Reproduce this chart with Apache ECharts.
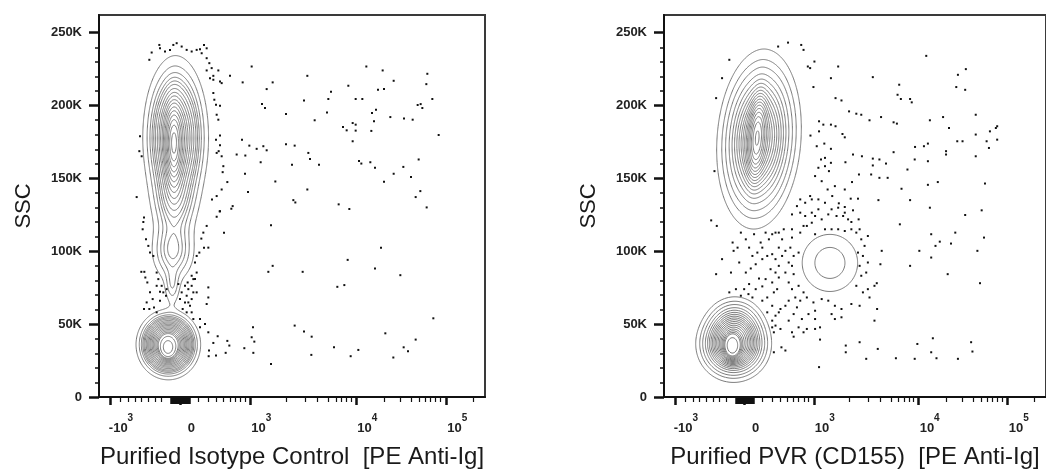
<!DOCTYPE html>
<html><head><meta charset="utf-8">
<script src="https://cdn.jsdelivr.net/npm/echarts@6/dist/echarts.min.js"></script>
<style>html,body{margin:0;padding:0;background:#fff}#c{width:1046px;height:474px}</style>
</head><body><div id="c"></div>
<script>
// ---------- axis definitions (x = biexponential display channel, y = SSC in thousands) ----------
const X_MAX = 1158;
const Y_MAX = 262.144;
const xMajorTicks = [33, 244, 454, 772, 1042];
const xMajorBase = ['-10', '0', '10', '10', '10'];
const xMajorExp = ['3', '', '3', '4', '5'];
const xMinorTicks = [63, 88, 108, 128, 148, 168, 188,
  298, 328, 353, 373, 393, 408, 425, 438,
  562, 618, 656, 688, 711, 728, 743, 756,
  855, 903, 938, 961, 980, 995, 1010, 1025, 1122];
const xZeroTicks = [216, 219, 222, 225, 228, 231, 234, 237, 240, 243, 246, 249, 252, 255, 258, 261, 264, 267, 270, 273];
const yMajorTicks = [0, 50, 100, 150, 200, 250];
const yMinorTicks = [10, 20, 30, 40, 60, 70, 80, 90, 110, 120, 130, 140, 160, 170, 180, 190, 210, 220, 230, 240];
const titles = ['Purified Isotype Control  [PE Anti-Ig]', 'Purified PVR (CD155)  [PE Anti-Ig]'];
const yTitle = 'SSC';

// ---------- population density model: [cx, cy(K), sx, sy(K), rho, weight] ----------
const isoPopulations = [
  [230, 178, 44, 25, 0, 0.38],
  [224, 172, 16, 18, 0, 0.07],
  [226, 133, 36, 14, 0, 0.05],
  [222, 100, 36, 12, 0, 0.05],
  [220, 76, 14, 8, 0, 0.007],
  [208, 36, 38, 9.5, 0, 0.26],
  [207, 34, 11, 3.5, 0, 0.04]
];
const pvrPopulations = [
  [288, 177, 52, 25, 0.12, 0.40],
  [282, 178, 16, 16, 0.3, 0.06],
  [503, 92, 60, 14, 0, 0.033],
  [211, 36, 44, 10, 0, 0.19],
  [215, 50, 40, 9, 0, 0.04],
  [207, 35, 13, 4.5, 0, 0.04]
];
const contourProb = [0.05, 0.10, 0.15, 0.20, 0.25, 0.30, 0.35, 0.40, 0.45, 0.50, 0.55, 0.60, 0.65, 0.70, 0.75, 0.80, 0.85, 0.90, 0.95];

// ---------- outlier events [x channel, SSC K] ----------
const isoDots = [
[393,220.4],[458,226.8],[431,215.9],[503,211.3],[521,215.9],[625,220.4],[696,209.5],[688,204.5],[748,213.6],[802,226.8],[851,224.1],[884,217],[837,210.8],[855,211.3],[985,221.8],[982,214.7],[1000,204.5],[956,200.4],[965,201],[970,198.3],[770,204.5],[790,204.5],[489,201],[498,198.3],[561,194.2],[615,203.5],[647,189.9],[684,195.3],[819,194.9],[831,197.2],[874,192.1],[915,191.2],[941,190.3],[732,185.3],[743,183],[761,188],[770,186.9],[770,182.8],[761,175.5],[825,189.2],[817,182.6],[1019,179.8],[429,176.6],[451,172.5],[493,172.1],[473,170.3],[503,169.3],[485,161.1],[439,165.7],[413,166.4],[561,173.4],[587,172.5],[579,159.3],[628,167.5],[633,163.4],[660,159.3],[780,162],[787,160.2],[814,161.1],[828,157.3],[855,147.7],[884,153.2],[913,157.9],[959,163],[936,150.9],[964,141.3],[950,137.2],[983,130.1],[625,142.4],[583,135.1],[589,133.5],[447,140.6],[438,153.2],[529,147.9],[401,131],[397,129.2],[362,127.4],[719,132.2],[751,129],[516,117.8],[846,102.5],[746,94.1],[904,83.6],[521,90],[508,85.9],[611,85.9],[715,75.6],[736,76.8],[828,88.2],[1003,54],[587,49],[615,44.9],[638,41.4],[462,47.8],[458,41],[466,38],[436,33.5],[463,30.3],[705,34.1],[778,32.3],[755,28],[637,28.9],[859,43.7],[914,34.1],[927,31.4],[950,39.4],[883,27.1],[516,22.7],[385,38.5],[391,35.3],[380,30.3],[356,41.7],[343,37.1],[330,31.9],[351,28.4],[329,28],
[343,220.4],[333,218.8],[323,224.1],[358,224.1],[343,217.7],[363,216.5],[368,215.4],[343,208.6],[346,204],[351,200.6],[363,199.9],[353,193.7],[358,190.3],[363,179.4],[351,176.6],[363,172.8],[353,167.5],[368,165.2],[359,168.7],[373,158.4],[371,154.3],[385,147.5],[368,142.4],[353,137.9],[339,135.6],[363,127.4],[375,112.8],[353,123.7],[323,117.4],[313,112.8],[307,108.7],[328,102.5],[315,102.5],[301,99.1],[293,96.8],[288,92.3],[293,85.4],[283,80.9],[278,76.3],[293,71.8],[278,67.2],[268,64.9],[263,58.1],[283,53.5],[303,53.5],[318,50.1],[328,44.4],[328,75.2],[328,68.3],[323,63.8],[303,47.8],
[181,241.6],[183,239.3],[223,241.6],[233,242.8],[248,240.5],[263,238.2],[278,237.1],[293,238.2],[303,238.7],[315,241.6],[323,239.3],[308,235.9],[198,237.1],[213,238.2],[158,236.4],[151,231.4],[323,232.5],[331,229.1],[338,225.7],
[123,178.9],[121,168.7],[128,165.2],[113,137.2],[135,123.1],[133,120.1],[131,115.1],[141,108.2],[148,103.7],[163,96.8],[153,99.1],[127,85.9],[136,85.9],[139,82],[145,78.6],[153,71.8],[161,67.2],[143,64.9],[151,60.4],[135,60.4],[165,61.5],[173,58.1],[183,66.1],[193,71.8],[188,76.3],[173,76.3],[201,69.5],[183,72.2],[203,74],[178,80.9],[173,85.4],[258,76.3],[248,71.8],[263,69.5],[268,74],[243,67.2],[258,64.9],[273,62.6],[251,60.4],[278,58.1],[283,71.8],[238,77.5],[266,78.6],[278,83.2],[288,80.9]
];
const pvrDots = [
[376,243.2],[416,241.6],[423,238.2],[346,240.5],[436,226.8],[456,230.2],[443,225.7],[528,226.8],[506,218.8],[453,212.7],[520,205.1],[538,203.5],[633,219.5],[795,234.1],[891,221.1],[915,225],[913,210.8],[886,212.7],[713,214.3],[708,207.4],[718,204.5],[746,204.5],[751,202.2],[561,196],[583,194.4],[598,193.7],[623,189.9],[658,192.1],[696,188.5],[706,187.6],[806,189.9],[846,192.1],[864,184.6],[945,193.7],[1006,184.6],[1010,185.8],[988,182.3],[978,175.5],[985,170.9],[1010,176.6],[945,180.1],[889,175.5],[905,175.5],[855,168.7],[855,166.4],[800,173.9],[788,172.1],[761,171.6],[800,161.8],[760,163],[696,168],[673,160.2],[653,163],[633,163.6],[633,158.9],[600,165.2],[628,152.7],[653,150.4],[678,150.4],[738,156.1],[720,142.9],[746,135.1],[806,129.9],[830,147.5],[800,145.6],[945,165.2],[973,146.5],[963,128.1],[913,124.9],[970,109.4],[950,100.3],[958,78.1],[883,112.8],[870,105.3],[836,106.6],[823,103.7],[810,95.7],[774,100.3],[810,111.7],[746,90],[860,84.3],[650,135.1],[715,118.5],[660,100.3],[656,91.1],[645,78.1],[646,60.4],[638,52.4],[541,180.5],[548,178.2],[520,185.8],[506,186.9],[470,189.2],[483,186.9],[470,182.3],[444,179.4],[463,172.1],[486,173.9],[506,170.3],[476,163],[488,164.1],[468,157.3],[488,158.4],[500,155],[506,160.7],[573,166.4],[550,161.1],[570,147.5],[591,152.7],[548,142.4],[566,136.1],[588,136.1],[548,130.4],[573,128.1],[590,121.9],[568,120.1],
[593,37.6],[551,35.3],[551,30.7],[613,26.2],[648,33],[703,26.6],[760,26.2],[768,36.4],[815,40.3],[810,30.7],[826,26.6],[891,26.2],[931,37.6],[935,31.2],[470,20.5],[473,39.4],[433,46.7],[458,46.7],[423,44.4],[356,34.1],[368,31.9],[333,30.7],[333,44.4],[328,52.4],[348,58.1],[338,49],[393,41.4],
[158,205.1],[176,218.8],[198,231.4],
[143,121.2],[160,117.4],[153,155],[158,84.3],[176,94.6],[203,85.4],[208,106],[223,102.5],[211,100.3],[228,92.3],[248,85.4],[263,88.2],[278,91.1],[288,81.3],[298,75.9],[278,74],[258,77.5],[243,74],[218,74],[198,71.8],[233,69.5],[256,70.6],[268,68.3],[298,66.1],[313,68.3],[333,71.8],[343,74],[328,78.6],[348,82],[368,85.4],[378,92.3],[388,90],[393,84.3],[378,78.6],[388,74],[398,68.3],[378,66.1],[368,62.6],[353,60.4],[338,55.8],[328,62.6],[313,58.1],[328,47.8],[353,46.7],[378,52.4],[393,56.9],[403,61.5],[413,66.1],[423,71.8],[433,68.3],[453,64.9],[458,59.2],[478,67.2],[498,66.1],[518,62.6],[538,60.4],[568,63.8],[593,62.6],[623,68.3],[638,76.3],[618,74],[603,71.8],[583,76.3],[598,83.2],[613,85.4],[593,90],[618,92.3],[603,96.8],[588,99.1],[608,103.7],[598,108.2],[618,110.5],[583,112.8],[593,115.1],[568,115.1],[548,113.9],[528,115.1],[508,115.1],[488,115.1],[458,111.7],[408,99.1],[408,76.3],[393,96.8],[383,102.5],[368,100.3],[358,96.8],[348,102.5],[338,94.6],[328,98],[313,96.8],[298,94.6],[283,99.1],[268,96.8],[258,102.5],[293,106],[318,108.2],[338,112.8],[358,108.2],[388,109.4],[413,112.8],[433,117.4],[448,119.6],[458,124.2],[478,121.9],[468,128.8],[448,126.5],[428,124.2],[413,126.5],[428,133.3],[448,135.6],[468,135.6],[488,133.3],[508,128.8],[523,124.2],[498,125.3],[528,129.9],[543,124.2],[558,121.9],[548,126.5],[530,132.9],[510,137.9],[496,142.4],[518,144.7],[478,148.1],[458,151.6],[443,137.9],[413,135.6],[423,117.4],[388,115.1],[363,115.1],[348,112.8],[328,111.7],[308,112.8],[273,111.7],[248,108.2],[233,112.8],[298,102.5],[308,80.9],[323,87.7],[338,85.4],[348,90],[388,44.4],[408,47.8],[418,53.5],[438,56.9],[458,53.5],[473,47.8],[508,56.9],[518,53.5],[538,54.7],[388,125.3],[403,131]
];

// ---------- contour computation (probability contours of the density model) ----------
function gauss(x, y, c) {
  const dx = (x - c[0]) / c[2], dy = (y - c[1]) / c[3], r = c[4];
  const q = (dx * dx - 2 * r * dx * dy + dy * dy) / (1 - r * r);
  return c[5] * Math.exp(-0.5 * q) / (c[2] * c[3] * Math.sqrt(1 - r * r));
}
function buildContours(pops, xr, yr, probs) {
  const x0 = xr[0], x1 = xr[1], dx = xr[2], y0 = yr[0], y1 = yr[1], dy = yr[2];
  const nx = Math.floor((x1 - x0) / dx) + 1, ny = Math.floor((y1 - y0) / dy) + 1;
  const f = new Float64Array(nx * ny);
  for (let j = 0; j < ny; j++) {
    const y = y0 + j * dy;
    for (let i = 0; i < nx; i++) {
      const x = x0 + i * dx; let s = 0;
      for (const p of pops) s += gauss(x, y, p);
      f[j * nx + i] = s;
    }
  }
  const sorted = Float64Array.from(f).sort().reverse();
  let total = 0; for (let n = 0; n < sorted.length; n++) total += sorted[n];
  const ps = probs.slice().sort((a, b) => a - b);
  const levels = []; let cum = 0, k = 0;
  for (let n = 0; n < sorted.length && k < ps.length; n++) {
    cum += sorted[n];
    while (k < ps.length && cum >= ps[k] * total) { levels.push(sorted[n]); k++; }
  }
  const segs = [];
  for (const L of levels) {
    for (let j = 0; j < ny - 1; j++) {
      const ya = y0 + j * dy, yb = ya + dy;
      for (let i = 0; i < nx - 1; i++) {
        const a = f[j * nx + i], b = f[j * nx + i + 1], c = f[(j + 1) * nx + i + 1], d = f[(j + 1) * nx + i];
        const idx = (a > L ? 1 : 0) | (b > L ? 2 : 0) | (c > L ? 4 : 0) | (d > L ? 8 : 0);
        if (idx === 0 || idx === 15) continue;
        const xa = x0 + i * dx, xb = xa + dx;
        const B = () => [xa + (L - a) / (b - a) * dx, ya];
        const R = () => [xb, ya + (L - b) / (c - b) * dy];
        const T = () => [xa + (L - d) / (c - d) * dx, yb];
        const Lf = () => [xa, ya + (L - a) / (d - a) * dy];
        const add = (p, q) => segs.push({ coords: [p, q] });
        switch (idx) {
          case 1: case 14: add(Lf(), B()); break;
          case 2: case 13: add(B(), R()); break;
          case 3: case 12: add(Lf(), R()); break;
          case 4: case 11: add(R(), T()); break;
          case 6: case 9: add(B(), T()); break;
          case 7: case 8: add(Lf(), T()); break;
          case 5: add(Lf(), B()); add(R(), T()); break;
          case 10: add(B(), R()); add(Lf(), T()); break;
        }
      }
    }
  }
  return segs;
}

const isoContours = buildContours(isoPopulations, [40, 480, 3], [0, Y_MAX, 0.75], contourProb);
const pvrContours = buildContours(pvrPopulations, [20, 720, 3], [0, Y_MAX, 0.75], contourProb);

// ---------- chart ----------
const FONT = "'Liberation Sans', Arial, Helvetica, sans-serif";
const DARK = '#1a1a1a';
function xLabel(v) {
  const i = xMajorTicks.indexOf(v);
  if (i < 0) return '';
  return xMajorExp[i] ? '{b|' + xMajorBase[i] + '}{s|' + xMajorExp[i] + '}' : '{b|' + xMajorBase[i] + '}';
}
function minorX(g, ticks, len, w) {
  return {
    gridIndex: g, type: 'value', min: 0, max: X_MAX, position: 'bottom',
    axisLine: { show: false },
    axisTick: { show: true, customValues: ticks, length: len, lineStyle: { color: '#111', width: w } },
    axisLabel: { show: false }, splitLine: { show: false }
  };
}
function axesFor(g) {
  const xs = [{
    gridIndex: g, type: 'value', min: 0, max: X_MAX, position: 'bottom',
    axisLine: { show: true, onZero: false, lineStyle: { color: '#111', width: 2 } },
    axisTick: { show: true, customValues: xMajorTicks, length: 8, lineStyle: { color: '#111', width: 2.5 } },
    axisLabel: {
      show: true, customValues: xMajorTicks, margin: 16, formatter: xLabel, padding: [0, 0, 0, 22],
      rich: {
        b: { fontSize: 13, fontWeight: 'bold', color: '#222', fontFamily: FONT, lineHeight: 30, verticalAlign: 'middle' },
        s: { fontSize: 10, fontWeight: 'bold', color: '#222', fontFamily: FONT, lineHeight: 12, verticalAlign: 'top' }
      }
    },
    splitLine: { show: false },
    name: titles[g], nameLocation: 'middle', nameGap: 48,
    nameTextStyle: { fontSize: 24, color: DARK, fontFamily: FONT }
  }, minorX(g, xMinorTicks, 5, 1.2), minorX(g, xZeroTicks, 7, 1.5)];
  const ys = [{
    gridIndex: g, type: 'value', min: 0, max: Y_MAX, position: 'left',
    axisLine: { show: true, onZero: false, lineStyle: { color: '#111', width: 2 } },
    axisTick: { show: true, customValues: yMajorTicks, length: 10, lineStyle: { color: '#111', width: 2.5 } },
    axisLabel: {
      show: true, customValues: yMajorTicks, margin: 17,
      formatter: v => (v === 0 ? '0' : v + 'K'),
      fontSize: 13, fontWeight: 'bold', color: '#222', fontFamily: FONT
    },
    splitLine: { show: false },
    name: yTitle, nameLocation: 'middle', nameGap: 64, nameRotate: 90,
    nameTextStyle: { fontSize: 22, color: DARK, fontFamily: FONT }
  }, {
    gridIndex: g, type: 'value', min: 0, max: Y_MAX, position: 'left',
    axisLine: { show: false },
    axisTick: { show: true, customValues: yMinorTicks, length: 4, lineStyle: { color: '#111', width: 1.5 } },
    axisLabel: { show: false }, splitLine: { show: false }
  }];
  return { xs, ys };
}
const a0 = axesFor(0), a1 = axesFor(1);

function contourSeries(data, xi, yi) {
  return {
    type: 'lines', coordinateSystem: 'cartesian2d', xAxisIndex: xi, yAxisIndex: yi,
    data: data, silent: true, large: true, largeThreshold: 100,
    progressive: 1e7, progressiveThreshold: 1e8,
    lineStyle: { color: '#787878', width: 1, opacity: 1, curveness: 0 },
    z: 2
  };
}
function dotSeries(data, xi, yi) {
  return {
    type: 'scatter', xAxisIndex: xi, yAxisIndex: yi, data: data,
    symbol: 'rect', symbolSize: 2, silent: true,
    itemStyle: { color: '#111', opacity: 1 }, z: 3
  };
}

const chart = echarts.init(document.getElementById('c'), null, { renderer: 'canvas' });
chart.setOption({
  animation: false,
  backgroundColor: '#ffffff',
  grid: [
    { left: 99, top: 15, width: 386, height: 383, show: true, borderColor: '#3a3a3a', borderWidth: 2 },
    { left: 664, top: 15, width: 386, height: 383, show: true, borderColor: '#3a3a3a', borderWidth: 2 }
  ],
  xAxis: a0.xs.concat(a1.xs),
  yAxis: a0.ys.concat(a1.ys),
  series: [
    contourSeries(isoContours, 0, 0),
    dotSeries(isoDots, 0, 0),
    contourSeries(pvrContours, 3, 2),
    dotSeries(pvrDots, 3, 2)
  ]
});
</script>
</body></html>
